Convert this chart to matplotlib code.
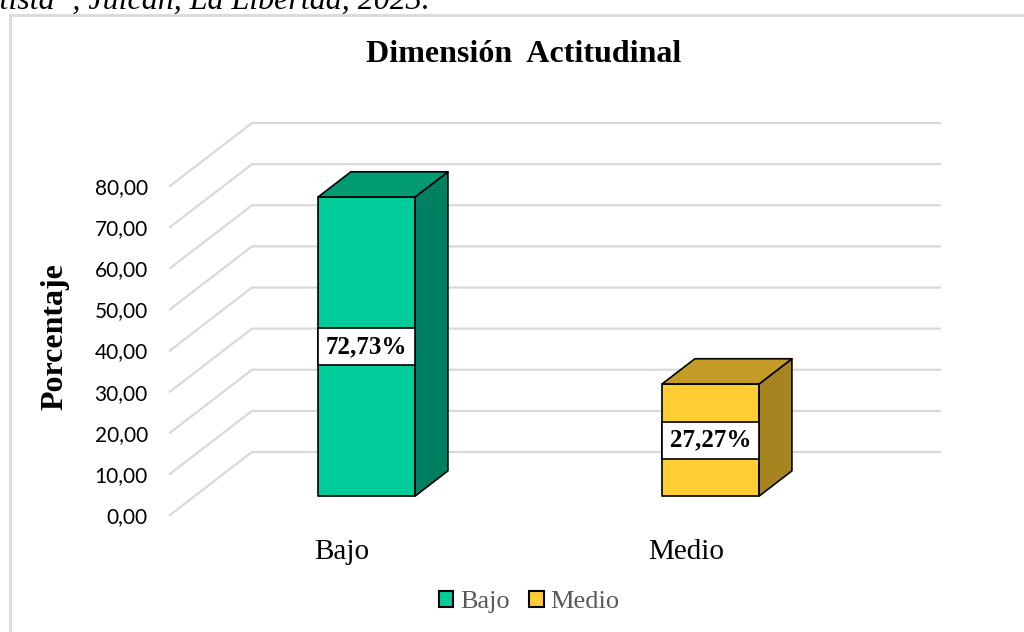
import matplotlib.pyplot as plt
from matplotlib.patches import Polygon, Rectangle

# datos
categorias = ["Bajo", "Medio"]
porcentajes = [72.73, 27.27]
etiquetas = ["72,73%", "27,27%"]
ticks = [0, 10, 20, 30, 40, 50, 60, 70, 80]

# colores (frente, lado, tapa)
frente = ["#00CC99", "#FFCE33"]
lado = ["#008062", "#A68521"]
tapa = ["#009B73", "#C49B26"]

W, H = 1024, 632
fig = plt.figure(figsize=(W / 100, H / 100), dpi=100)

# ejes: izquierda 170 px, derecha 940 px, valor 0 en y=515 px, arriba 110 px
ax = fig.add_axes([170 / W, (H - 515) / H, 770 / W, 405 / H])
PX_CAT = 344.0          # pixeles por categoria
PX_VAL = 329 / 80.0     # pixeles por unidad
ax.set_xlim(0, 770 / PX_CAT)
ax.set_ylim(0, 405 / PX_VAL)

DX = 82 / PX_CAT        # desplazamiento de profundidad
DY = 63 / PX_VAL
z0, z1 = 0.30, 0.70     # profundidad de las barras
ancho = 97 / PX_CAT

gris = "#D9D9D9"
xmax = ax.get_xlim()[1]
for t in ticks:
    ax.plot([0, DX, xmax], [t, t + DY, t + DY], color=gris, lw=1.6, clip_on=False, zorder=1)

for i, v in enumerate(porcentajes):
    c = i + 0.5
    x0 = c - ancho / 2 + z0 * DX
    x1 = x0 + ancho
    y0 = z0 * DY
    ddx = (z1 - z0) * DX
    ddy = (z1 - z0) * DY
    # frente
    ax.add_patch(Polygon([(x0, y0), (x1, y0), (x1, y0 + v), (x0, y0 + v)], closed=True,
                         facecolor=frente[i], edgecolor="black", lw=1.2, zorder=3, joinstyle="round"))
    # lado
    ax.add_patch(Polygon([(x1, y0), (x1 + ddx, y0 + ddy), (x1 + ddx, y0 + ddy + v), (x1, y0 + v)],
                         closed=True, facecolor=lado[i], edgecolor="black", lw=1.2, zorder=3, joinstyle="round"))
    # tapa
    ax.add_patch(Polygon([(x0, y0 + v), (x1, y0 + v), (x1 + ddx, y0 + ddy + v), (x0 + ddx, y0 + ddy + v)],
                         closed=True, facecolor=tapa[i], edgecolor="black", lw=1.2, zorder=3, joinstyle="round"))
    # etiqueta de datos
    ym = y0 + v / 2
    hb = 37 / PX_VAL
    ax.add_patch(Rectangle((x0, ym - hb / 2), ancho, hb, facecolor="white",
                           edgecolor="black", lw=1.2, zorder=4))
    ax.text(x0 + ancho / 2, ym, etiquetas[i], ha="center", va="center", zorder=5,
            fontsize=18, fontweight="bold", family="Liberation Serif")

ax.set_yticks(ticks)
ax.set_yticklabels([f"{t:.2f}".replace(".", ",") for t in ticks], family="Lato", fontsize=15)
ax.set_xticks([0.5, 1.5])
ax.set_xticklabels(categorias, family="Liberation Serif", fontsize=21)
ax.tick_params(axis="y", length=0, pad=16)
ax.tick_params(axis="x", length=0, pad=17)
for s in ax.spines.values():
    s.set_visible(False)
ax.patch.set_visible(False)

# borde del area de grafico
fig.add_artist(Rectangle((10 / W, -0.1), 1.2, (H - 15) / H + 0.1, transform=fig.transFigure,
                         facecolor="none", edgecolor=gris, lw=2))

fig.text(524 / W, 1 - 55 / H, "Dimensión  Actitudinal", ha="center", va="center",
         fontsize=23, fontweight="bold", family="Liberation Serif")
fig.text(55 / W, 1 - 337 / H, "Porcentaje", ha="center", va="center", rotation=90,
         fontsize=23, fontweight="bold", family="Liberation Serif")
fig.text(430 / W, 1 - 9 / H, "Bautista\u201d, Julcán, La Libertad, 2023.", ha="right", va="baseline",
         fontsize=23, style="italic", family="Liberation Serif")

handles = [Rectangle((0, 0), 1, 1, facecolor=frente[i], edgecolor="black", lw=1.5) for i in range(2)]
fig.legend(handles, categorias, loc="center", bbox_to_anchor=(529 / W, 1 - 602 / H), ncol=2,
           frameon=False, prop={"family": "Liberation Serif", "size": 19},
           handlelength=0.55, handleheight=0.55, handletextpad=0.25, columnspacing=0.75,
           labelcolor="#595959")

fig.savefig("out.png", dpi=100)
